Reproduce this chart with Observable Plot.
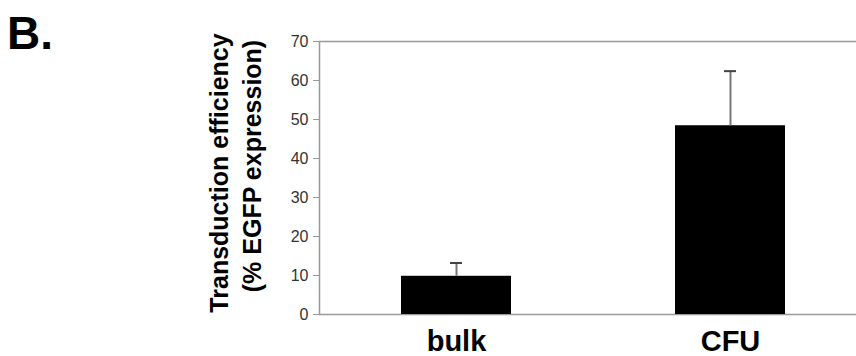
<!DOCTYPE html>
<html>
<head>
<meta charset="utf-8">
<script src="https://cdn.jsdelivr.net/npm/d3@7"></script>
<script src="https://cdn.jsdelivr.net/npm/@observablehq/plot@0.6"></script>
<style>
  html, body { margin: 0; padding: 0; background: #fff; overflow: hidden; }
  #wrap { position: relative; width: 856px; height: 356px; }
  #panel { position: absolute; left: 7px; top: 10px; font: bold 46px "Liberation Sans", Arial, sans-serif; color: #000; line-height: 1; }
  #chart svg { overflow: hidden; }
</style>
</head>
<body>
<div id="wrap">
  <div id="chart"></div>
  <div id="panel">B.</div>
</div>
<script>
const categories = ["bulk", "CFU"];
const means = [9.8, 48.4];
const errors = [3.4, 14.0];
const yTicks = [0, 10, 20, 30, 40, 50, 60, 70];
const yLabelLines = ["Transduction efficiency", "(% EGFP expression)"];

const data = categories.map((c, i) => ({cat: c, v: means[i], e: means[i] + errors[i]}));
const font = "Liberation Sans, Arial, sans-serif";

const chart = Plot.plot({
  width: 856,
  height: 356,
  marginTop: 41,
  marginBottom: 42,
  marginLeft: 319,
  marginRight: -11,
  style: {fontFamily: font, background: "#fff", overflow: "hidden"},
  x: {domain: categories, paddingInner: 0.6, paddingOuter: 0.3, label: null},
  y: {domain: [0, 70], label: null},
  marks: [
    Plot.frame({stroke: "#999", strokeWidth: 1.5}),
    Plot.axisY({ticks: yTicks, tickSize: 6, tickPadding: 5, fontSize: 16, color: "#333", stroke: "#999", label: null}),
    Plot.axisX({tickSize: 0, tickPadding: 16, fontSize: 29, fontWeight: "bold", color: "#000", label: null}),
    Plot.barY(data, {x: "cat", y: "v", fill: "#000"}),
    Plot.ruleX(data, {x: "cat", y1: "v", y2: "e", stroke: "#777", strokeWidth: 2}),
    Plot.tickY(data, {x: "cat", y: "e", stroke: "#444", strokeWidth: 2, insetLeft: 49, insetRight: 49}),
    Plot.text([yLabelLines[0]], {text: d => d, frameAnchor: "left", textAnchor: "middle", rotate: -90, dx: -100, dy: -5, fontSize: 25, fontWeight: "bold", fill: "#000"}),
    Plot.text([yLabelLines[1]], {text: d => d, frameAnchor: "left", textAnchor: "middle", rotate: -90, dx: -67, dy: -12, fontSize: 25, fontWeight: "bold", fill: "#000"})
  ]
});
document.getElementById("chart").appendChild(chart);
</script>
</body>
</html>
